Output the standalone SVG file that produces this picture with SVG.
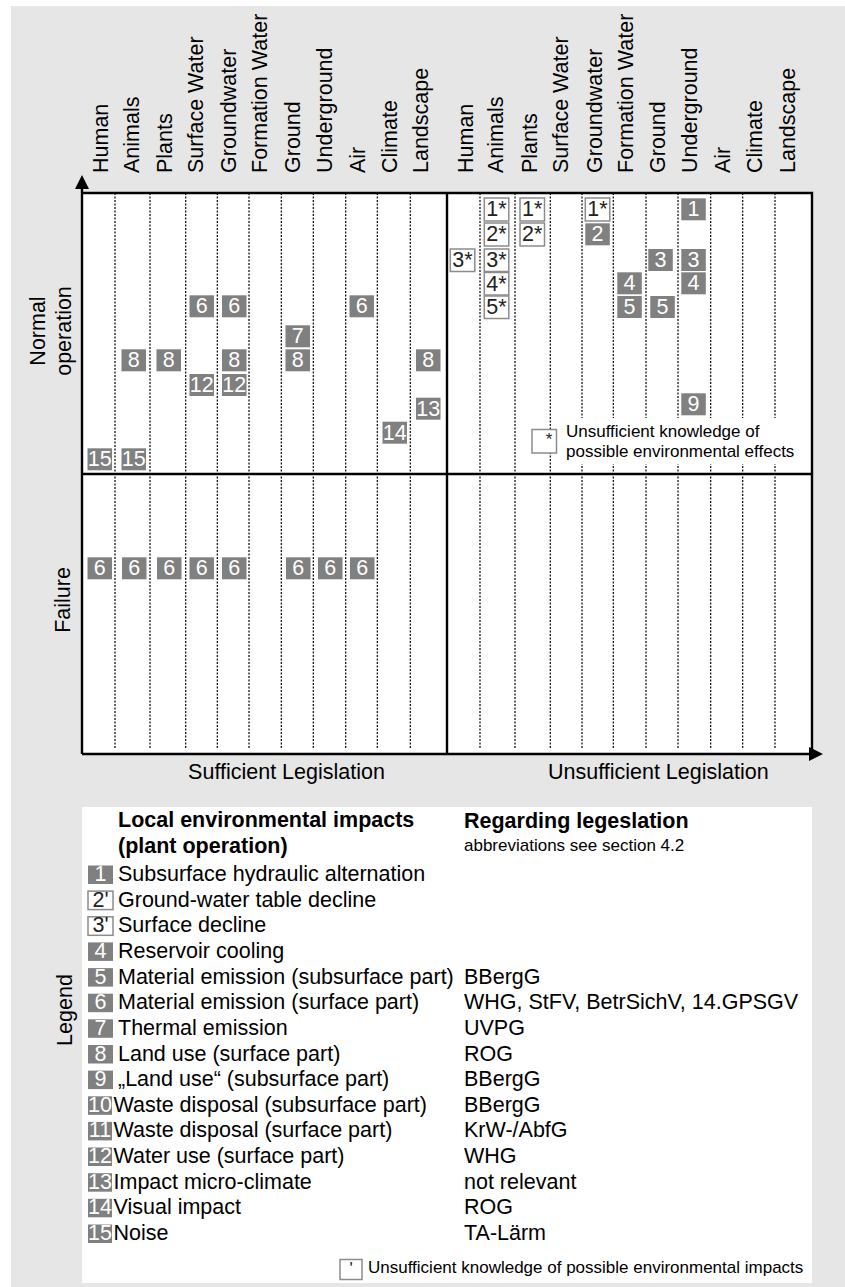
<svg xmlns="http://www.w3.org/2000/svg" width="845" height="1287" viewBox="0 0 845 1287">
<style>
.t{font-family:"Liberation Sans",Arial,sans-serif;font-size:21.5px;fill:#000}
.s{font-size:17px}
.b{font-weight:bold}
.m{text-anchor:middle}
.bf{fill:#808080}
.bo{fill:#fff;stroke:#8c8c8c;stroke-width:1.5}
.wt{fill:#fff}
.dt{fill:#222}
.dot{stroke:#000;stroke-width:1.2;stroke-dasharray:2 1.5;fill:none}
.ax{stroke:#000;stroke-width:2.4;fill:none}
</style>
<defs>
<marker id="arr" viewBox="0 0 14 14" refX="9" refY="7" markerWidth="14" markerHeight="14" markerUnits="userSpaceOnUse" orient="auto">
<path d="M0,0 L14,7 L0,14 z" fill="#000"/>
</marker>
<rect id="bx" width="24.5" height="22"/>
</defs>
<rect x="11" y="6" width="834" height="1281" fill="#e6e6e6"/>
<rect x="82" y="193" width="730" height="561" fill="#fff"/>

<g id="headers" class="t">
<text transform="translate(108,173) rotate(-90)">Human</text>
<text transform="translate(139,173) rotate(-90)">Animals</text>
<text transform="translate(171.7,173) rotate(-90)">Plants</text>
<text transform="translate(203.3,173) rotate(-90)">Surface Water</text>
<text transform="translate(235.5,173) rotate(-90)">Groundwater</text>
<text transform="translate(266.7,173) rotate(-90)">Formation Water</text>
<text transform="translate(300,173) rotate(-90)">Ground</text>
<text transform="translate(331.7,173) rotate(-90)">Underground</text>
<text transform="translate(365,173) rotate(-90)">Air</text>
<text transform="translate(396.7,173) rotate(-90)">Climate</text>
<text transform="translate(428.3,173) rotate(-90)">Landscape</text>
<text transform="translate(473.3,173) rotate(-90)">Human</text>
<text transform="translate(503.3,173) rotate(-90)">Animals</text>
<text transform="translate(536.7,173) rotate(-90)">Plants</text>
<text transform="translate(568.3,173) rotate(-90)">Surface Water</text>
<text transform="translate(601.7,173) rotate(-90)">Groundwater</text>
<text transform="translate(633.3,173) rotate(-90)">Formation Water</text>
<text transform="translate(665,173) rotate(-90)">Ground</text>
<text transform="translate(696.7,173) rotate(-90)">Underground</text>
<text transform="translate(730,173) rotate(-90)">Air</text>
<text transform="translate(761.7,173) rotate(-90)">Climate</text>
<text transform="translate(795,173) rotate(-90)">Landscape</text>
</g>

<g id="axis-labels" class="t m">
<text transform="translate(45,331) rotate(-90)">Normal</text>
<text transform="translate(71,331) rotate(-90)">operation</text>
<text transform="translate(70,600) rotate(-90)">Failure</text>
<text x="286.5" y="778.5">Sufficient Legislation</text>
<text x="658.3" y="778.5">Unsufficient Legislation</text>
<text transform="translate(72,1010) rotate(-90)">Legend</text>
</g>

<g id="connectors">
<g id="grid-dotted" class="dot">
<path d="M115,193V748M150,193V748M185.7,193V748M217.3,193V748M249,193V748M281.3,193V748M313.3,193V748M345.7,193V748M377.3,193V748M410.3,193V748"/>
<path d="M480,193V748M515,193V748M550.3,193V748M582,193V748M613.3,193V748M646,193V748M678,193V748M710.7,193V748M742.7,193V748M775,193V748"/>
</g>
<rect x="560" y="418" width="246" height="46" fill="#fff"/>
<g class="ax">
<path d="M82,193H812V754M447,193V754M82,474H812"/>
<path d="M82,754V180" marker-end="url(#arr)"/>
<path d="M82,754H818" marker-end="url(#arr)"/>
</g>
</g>

<g id="note-star">
<rect x="532" y="429.5" width="24.5" height="23.5" class="bo"/>
<text x="549" y="445" class="t s m dt">*</text>
<text x="566" y="436.7" class="t s">Unsufficient knowledge of</text>
<text x="566" y="456.7" class="t s">possible environmental effects</text>
</g>

<g id="left-normal" class="t m">
<g id="L-sw-6"><use href="#bx" x="189.5" y="295.3" class="bf"/><text x="201.7" y="313.3" class="wt">6</text></g>
<g id="L-gw-6"><use href="#bx" x="222" y="295.3" class="bf"/><text x="234.2" y="313.3" class="wt">6</text></g>
<g id="L-air-6"><use href="#bx" x="349.5" y="295.3" class="bf"/><text x="361.7" y="313.3" class="wt">6</text></g>
<g id="L-gr-7"><use href="#bx" x="285.5" y="325.3" class="bf"/><text x="297.7" y="343.3" class="wt">7</text></g>
<g id="L-an-8"><use href="#bx" x="121.5" y="349.3" class="bf"/><text x="133.7" y="367.3" class="wt">8</text></g>
<g id="L-pl-8"><use href="#bx" x="156.5" y="349.3" class="bf"/><text x="168.7" y="367.3" class="wt">8</text></g>
<g id="L-gw-8"><use href="#bx" x="222" y="349.3" class="bf"/><text x="234.2" y="367.3" class="wt">8</text></g>
<g id="L-gr-8"><use href="#bx" x="285.5" y="349.3" class="bf"/><text x="297.7" y="367.3" class="wt">8</text></g>
<g id="L-la-8"><use href="#bx" x="416" y="349.3" class="bf"/><text x="428.2" y="367.3" class="wt">8</text></g>
<g id="L-sw-12"><use href="#bx" x="189.5" y="374" class="bf"/><text x="201.7" y="392" class="wt">12</text></g>
<g id="L-gw-12"><use href="#bx" x="222" y="374" class="bf"/><text x="234.2" y="392" class="wt">12</text></g>
<g id="L-la-13"><use href="#bx" x="416" y="397.7" class="bf"/><text x="428.2" y="415.7" class="wt">13</text></g>
<g id="L-cl-14"><use href="#bx" x="382.5" y="421.7" class="bf"/><text x="394.7" y="439.7" class="wt">14</text></g>
<g id="L-hu-15"><use href="#bx" x="87.5" y="448.3" class="bf"/><text x="99.7" y="466.3" class="wt">15</text></g>
<g id="L-an-15"><use href="#bx" x="121.5" y="448.3" class="bf"/><text x="133.7" y="466.3" class="wt">15</text></g>
</g>

<g id="left-failure" class="t m">
<g id="F-hu-6"><use href="#bx" x="87.5" y="557.3" class="bf"/><text x="99.7" y="575.3" class="wt">6</text></g>
<g id="F-an-6"><use href="#bx" x="122" y="557.3" class="bf"/><text x="134.2" y="575.3" class="wt">6</text></g>
<g id="F-pl-6"><use href="#bx" x="157" y="557.3" class="bf"/><text x="169.2" y="575.3" class="wt">6</text></g>
<g id="F-sw-6"><use href="#bx" x="189.5" y="557.3" class="bf"/><text x="201.7" y="575.3" class="wt">6</text></g>
<g id="F-gw-6"><use href="#bx" x="222" y="557.3" class="bf"/><text x="234.2" y="575.3" class="wt">6</text></g>
<g id="F-gr-6"><use href="#bx" x="286" y="557.3" class="bf"/><text x="298.2" y="575.3" class="wt">6</text></g>
<g id="F-ug-6"><use href="#bx" x="318" y="557.3" class="bf"/><text x="330.2" y="575.3" class="wt">6</text></g>
<g id="F-air-6"><use href="#bx" x="350" y="557.3" class="bf"/><text x="362.2" y="575.3" class="wt">6</text></g>
</g>

<g id="right-normal" class="t m">
<g id="R-hu-3s"><rect x="450.3" y="249" width="24.5" height="22.5" class="bo"/><text x="462.5" y="267" class="dt">3*</text></g>
<g id="R-an-1s"><rect x="484.3" y="198" width="24.5" height="23" class="bo"/><text x="496.5" y="216" class="dt">1*</text></g>
<g id="R-an-2s"><rect x="484.3" y="223" width="24.5" height="23" class="bo"/><text x="496.5" y="241" class="dt">2*</text></g>
<g id="R-an-3s"><rect x="484.3" y="249" width="24.5" height="22.5" class="bo"/><text x="496.5" y="267" class="dt">3*</text></g>
<g id="R-an-4s"><rect x="484.3" y="272.5" width="24.5" height="22.5" class="bo"/><text x="496.5" y="290.5" class="dt">4*</text></g>
<g id="R-an-5s"><rect x="484.3" y="296" width="24.5" height="22.5" class="bo"/><text x="496.5" y="314" class="dt">5*</text></g>
<g id="R-pl-1s"><rect x="520" y="198" width="24.5" height="23" class="bo"/><text x="532.2" y="216" class="dt">1*</text></g>
<g id="R-pl-2s"><rect x="520" y="223" width="24.5" height="23" class="bo"/><text x="532.2" y="241" class="dt">2*</text></g>
<g id="R-gw-1s"><rect x="585.3" y="198" width="24.5" height="23" class="bo"/><text x="597.5" y="216" class="dt">1*</text></g>
<g id="R-gw-2"><use href="#bx" x="585.3" y="223.3" class="bf"/><text x="597.5" y="241.3" class="wt">2</text></g>
<g id="R-fw-4"><use href="#bx" x="617.3" y="272.3" class="bf"/><text x="629.5" y="290.3" class="wt">4</text></g>
<g id="R-fw-5"><use href="#bx" x="617.3" y="296" class="bf"/><text x="629.5" y="314" class="wt">5</text></g>
<g id="R-gr-3"><use href="#bx" x="648.3" y="249" class="bf"/><text x="660.5" y="267" class="wt">3</text></g>
<g id="R-gr-5"><use href="#bx" x="650.3" y="296" class="bf"/><text x="662.5" y="314" class="wt">5</text></g>
<g id="R-ug-1"><use href="#bx" x="681.3" y="198.3" class="bf"/><text x="693.5" y="216.3" class="wt">1</text></g>
<g id="R-ug-3"><use href="#bx" x="681.3" y="249" class="bf"/><text x="693.5" y="267" class="wt">3</text></g>
<g id="R-ug-4"><use href="#bx" x="681.3" y="272.3" class="bf"/><text x="693.5" y="290.3" class="wt">4</text></g>
<g id="R-ug-9"><use href="#bx" x="681.3" y="393.3" class="bf"/><text x="693.5" y="411.3" class="wt">9</text></g>
</g>

<g id="legend">
<rect x="82" y="807" width="730" height="476" fill="#fff"/>
<g class="t b">
<text x="118" y="827">Local environmental impacts</text>
<text x="118" y="853">(plant operation)</text>
<text x="464" y="828">Regarding legeslation</text>
</g>
<text x="464" y="851" class="t s">abbreviations see section 4.2</text>

<g id="leg-1" class="t"><rect x="88" y="865.5" width="25" height="18.5" class="bf"/><text x="100.5" y="881" class="m wt">1</text><text x="118" y="881">Subsurface hydraulic alternation</text></g>
<g id="leg-2" class="t"><rect x="88" y="891.1" width="25" height="18.5" class="bo"/><text x="100.5" y="906.6" class="m dt">2'</text><text x="118" y="906.6">Ground-water table decline</text></g>
<g id="leg-3" class="t"><rect x="88" y="916.8" width="25" height="18.5" class="bo"/><text x="100.5" y="932.3" class="m dt">3'</text><text x="118" y="932.3">Surface decline</text></g>
<g id="leg-4" class="t"><rect x="88" y="942.4" width="25" height="18.5" class="bf"/><text x="100.5" y="957.9" class="m wt">4</text><text x="118" y="957.9">Reservoir cooling</text></g>
<g id="leg-5" class="t"><rect x="88" y="968.1" width="25" height="18.5" class="bf"/><text x="100.5" y="983.6" class="m wt">5</text><text x="118" y="983.6">Material emission (subsurface part)</text><text x="464" y="983.6">BBergG</text></g>
<g id="leg-6" class="t"><rect x="88" y="993.7" width="25" height="18.5" class="bf"/><text x="100.5" y="1009.2" class="m wt">6</text><text x="118" y="1009.2">Material emission (surface part)</text><text x="464" y="1009.2">WHG, StFV, BetrSichV, 14.GPSGV</text></g>
<g id="leg-7" class="t"><rect x="88" y="1019.3" width="25" height="18.5" class="bf"/><text x="100.5" y="1034.8" class="m wt">7</text><text x="118" y="1034.8">Thermal emission</text><text x="464" y="1034.8">UVPG</text></g>
<g id="leg-8" class="t"><rect x="88" y="1045" width="25" height="18.5" class="bf"/><text x="100.5" y="1060.5" class="m wt">8</text><text x="118" y="1060.5">Land use (surface part)</text><text x="464" y="1060.5">ROG</text></g>
<g id="leg-9" class="t"><rect x="88" y="1070.6" width="25" height="18.5" class="bf"/><text x="100.5" y="1086.1" class="m wt">9</text><text x="118" y="1086.1">„Land use“ (subsurface part)</text><text x="464" y="1086.1">BBergG</text></g>
<g id="leg-10" class="t"><rect x="88" y="1096.3" width="24" height="18.5" class="bf"/><text x="100" y="1111.8" class="m wt">10</text><text x="113.5" y="1111.8">Waste disposal (subsurface part)</text><text x="464" y="1111.8">BBergG</text></g>
<g id="leg-11" class="t"><rect x="88" y="1121.9" width="24" height="18.5" class="bf"/><text x="100" y="1137.4" class="m wt">11</text><text x="113.5" y="1137.4">Waste disposal (surface part)</text><text x="464" y="1137.4">KrW-/AbfG</text></g>
<g id="leg-12" class="t"><rect x="88" y="1147.5" width="24" height="18.5" class="bf"/><text x="100" y="1163" class="m wt">12</text><text x="113.5" y="1163">Water use (surface part)</text><text x="464" y="1163">WHG</text></g>
<g id="leg-13" class="t"><rect x="88" y="1173.2" width="24" height="18.5" class="bf"/><text x="100" y="1188.7" class="m wt">13</text><text x="113.5" y="1188.7">Impact micro-climate</text><text x="464" y="1188.7">not relevant</text></g>
<g id="leg-14" class="t"><rect x="88" y="1198.8" width="24" height="18.5" class="bf"/><text x="100" y="1214.3" class="m wt">14</text><text x="113.5" y="1214.3">Visual impact</text><text x="464" y="1214.3">ROG</text></g>
<g id="leg-15" class="t"><rect x="88" y="1224.5" width="24" height="18.5" class="bf"/><text x="100" y="1240" class="m wt">15</text><text x="113.5" y="1240">Noise</text><text x="464" y="1240">TA-Lärm</text></g>

<g id="note-prime">
<rect x="340" y="1259.5" width="22" height="20" class="bo"/>
<text x="351" y="1274" class="t s m dt">'</text>
<text x="368" y="1273" class="t s">Unsufficient knowledge of possible environmental impacts</text>
</g>
</g>
</svg>
